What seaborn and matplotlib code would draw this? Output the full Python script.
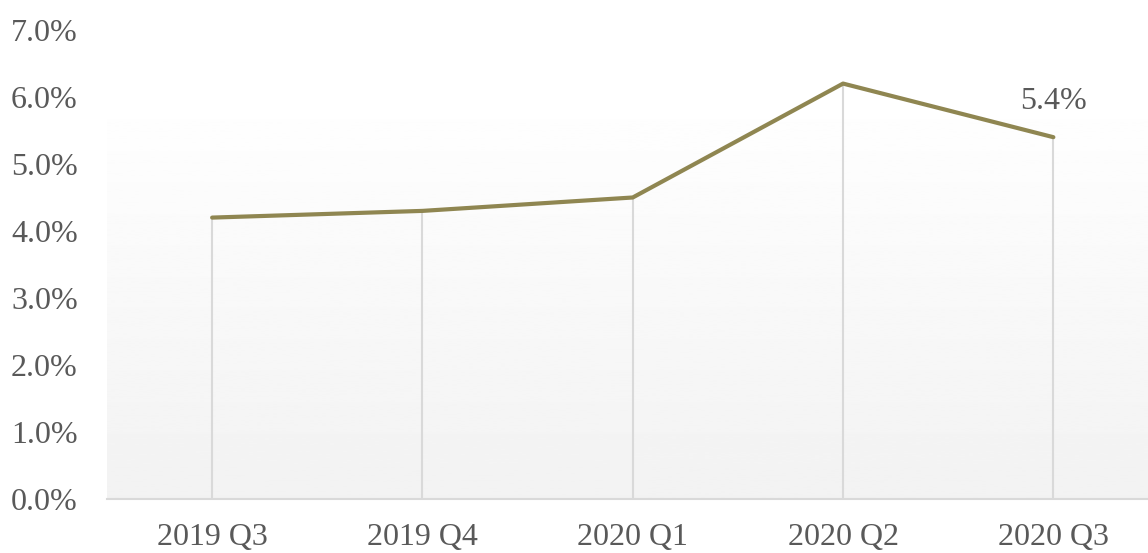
import numpy as np
import pandas as pd
import seaborn as sns
import matplotlib.pyplot as plt
import matplotlib.ticker as ticker

quarters = ["2019 Q3", "2019 Q4", "2020 Q1", "2020 Q2", "2020 Q3"]
rates = [4.2, 4.3, 4.5, 6.2, 5.4]
label_last = "5.4%"

df = pd.DataFrame({"quarter": quarters, "rate": rates})

sns.set_style("white")
plt.rcParams["font.family"] = ["Liberation Serif", "DejaVu Serif"]

fig = plt.figure(figsize=(11.48, 5.53), dpi=100)
ax = fig.add_axes([0.0932, 0.0976, 0.9068, 0.8482])

# gradient background of the plot area
grad = np.linspace(0.949, 1.0, 256).reshape(-1, 1)
ax.imshow(grad, cmap="gray", vmin=0, vmax=1, aspect="auto",
          extent=(-0.5, 4.45, 0, 6.13), origin="lower", zorder=0)

# drop lines
ax.vlines(range(len(rates)), 0, rates, color="#d9d9d9", linewidth=1.5, zorder=1)

sns.lineplot(data=df, x="quarter", y="rate", color="#8f8651", linewidth=3,
             ax=ax, zorder=3, sort=False)
ax.lines[-1].set_solid_capstyle("round")

ax.annotate(label_last, (len(rates) - 1, rates[-1]), xytext=(0, 15),
            textcoords="offset points", ha="center", va="bottom",
            fontsize=23, color="#595959")

ax.set_xlim(-0.5, 4.45)
ax.set_ylim(0, 7)
ax.yaxis.set_major_locator(ticker.MultipleLocator(1))
ax.yaxis.set_major_formatter(ticker.FuncFormatter(lambda v, p: f"{v:.1f}%"))
ax.set_xticks(range(len(quarters)))
ax.set_xticklabels(quarters)
ax.set_xlabel("")
ax.set_ylabel("")
ax.tick_params(axis="both", length=0, labelsize=23, labelcolor="#595959")
ax.tick_params(axis="y", pad=21)
ax.tick_params(axis="x", pad=17)

for s in ["top", "right", "left"]:
    ax.spines[s].set_visible(False)
ax.spines["bottom"].set_color("#d9d9d9")
ax.spines["bottom"].set_linewidth(1.5)
ax.spines["bottom"].set_zorder(2)

fig.savefig("out.png", dpi=100)
